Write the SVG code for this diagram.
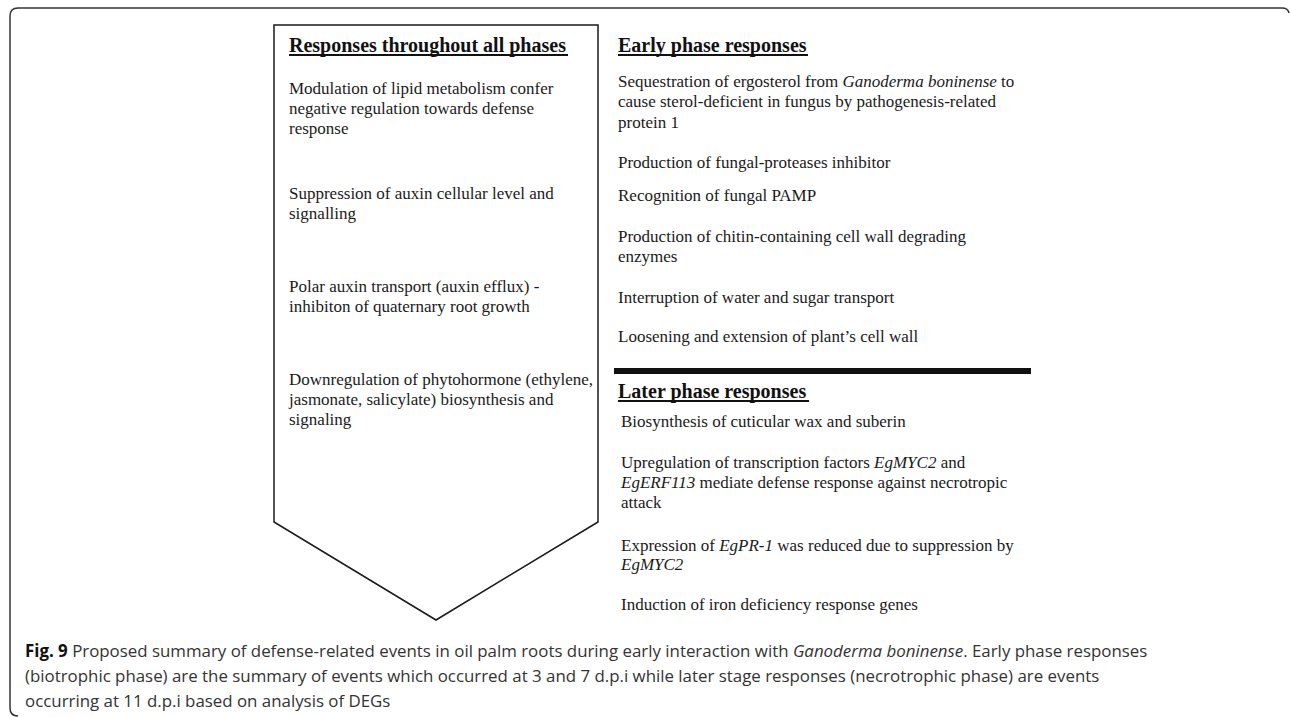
<svg xmlns="http://www.w3.org/2000/svg" width="1290" height="717" viewBox="0 0 1290 717">
<style>
.t{font-family:"Liberation Serif","Times New Roman",serif;font-size:17px;fill:#1a1a1a}
.h{font-family:"Liberation Serif","Times New Roman",serif;font-size:20px;font-weight:bold;fill:#111}
.i{font-style:italic}
.cap{font-family:"Open Sans","Noto Sans",sans-serif;font-size:16.88px;fill:#333}
.ul{fill:#111}
</style>
<rect width="1290" height="717" fill="#fff"/>
<path d="M1289 13 Q1288 8 1282 8 H18 Q10 8 10 16 V708 Q10 716 18 716" fill="none" stroke="#333" stroke-width="1.5"/>
<g id="connectors"/>
<g id="all-phases">
<path d="M274 25 H598 V522 L436 620 L274 522 Z" fill="none" stroke="#1a1a1a" stroke-width="1.5"/>
<text class="h" x="289" y="52">Responses throughout all phases</text>
<rect class="ul" x="289" y="54" width="279" height="2"/>
<text class="t" x="289" y="94">Modulation of lipid metabolism confer</text>
<text class="t" x="289" y="114">negative regulation towards defense</text>
<text class="t" x="289" y="134">response</text>
<text class="t" x="289" y="199">Suppression of auxin cellular level and</text>
<text class="t" x="289" y="219">signalling</text>
<text class="t" x="289" y="292">Polar auxin transport (auxin efflux) -</text>
<text class="t" x="289" y="312">inhibiton of quaternary root growth</text>
<text class="t" x="289" y="385">Downregulation of phytohormone (ethylene,</text>
<text class="t" x="289" y="405">jasmonate, salicylate) biosynthesis and</text>
<text class="t" x="289" y="425">signaling</text>
</g>
<g id="early-phase">
<text class="h" x="618" y="52">Early phase responses</text>
<rect class="ul" x="618" y="54" width="190" height="2"/>
<text class="t" x="618" y="87">Sequestration of ergosterol from <tspan class="i">Ganoderma boninense</tspan> to</text>
<text class="t" x="618" y="107">cause sterol-deficient in fungus by pathogenesis-related</text>
<text class="t" x="618" y="128">protein 1</text>
<text class="t" x="618" y="168">Production of fungal-proteases inhibitor</text>
<text class="t" x="618" y="201">Recognition of fungal PAMP</text>
<text class="t" x="618" y="242">Production of chitin-containing cell wall degrading</text>
<text class="t" x="618" y="262">enzymes</text>
<text class="t" x="618" y="303">Interruption of water and sugar transport</text>
<text class="t" x="618" y="342">Loosening and extension of plant’s cell wall</text>
</g>
<g id="separator">
<rect x="614" y="368" width="417" height="6" fill="#111"/>
</g>
<g id="later-phase">
<text class="h" x="618" y="398">Later phase responses</text>
<rect class="ul" x="618" y="400" width="191" height="2"/>
<text class="t" x="621" y="427">Biosynthesis of cuticular wax and suberin</text>
<text class="t" x="621" y="468">Upregulation of transcription factors <tspan class="i">EgMYC2</tspan> and</text>
<text class="t" x="621" y="488"><tspan class="i">EgERF113</tspan> mediate defense response against necrotropic</text>
<text class="t" x="621" y="508">attack</text>
<text class="t" x="621" y="551">Expression of <tspan class="i">EgPR-1</tspan> was reduced due to suppression by</text>
<text class="t" x="621" y="570"><tspan class="i">EgMYC2</tspan></text>
<text class="t" x="621" y="610">Induction of iron deficiency response genes</text>
</g>
<g id="caption">
<text class="cap" x="25" y="657"><tspan font-weight="bold" fill="#111">Fig. 9</tspan> Proposed summary of defense-related events in oil palm roots during early interaction with <tspan class="i">Ganoderma boninense</tspan>. Early phase responses</text>
<text class="cap" x="25" y="682">(biotrophic phase) are the summary of events which occurred at 3 and 7 d.p.i while later stage responses (necrotrophic phase) are events</text>
<text class="cap" x="25" y="707">occurring at 11 d.p.i based on analysis of DEGs</text>
</g>
</svg>
